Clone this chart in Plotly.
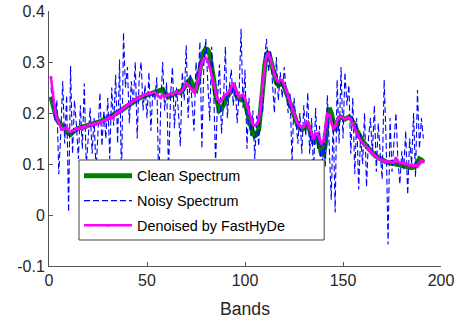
import plotly.graph_objects as go

bands = list(range(1, 192))

clean = [
    0.232, 0.215, 0.198, 0.188, 0.182, 0.178, 0.175, 0.172, 0.166, 0.160,
    0.158, 0.162, 0.166, 0.168, 0.170, 0.171, 0.172, 0.173, 0.175, 0.176,
    0.177, 0.178, 0.179, 0.180, 0.182, 0.183, 0.185, 0.186, 0.188, 0.190,
    0.192, 0.194, 0.196, 0.198, 0.200, 0.203, 0.206, 0.208, 0.211, 0.214,
    0.217, 0.219, 0.222, 0.225, 0.227, 0.229, 0.231, 0.233, 0.235, 0.236,
    0.237, 0.238, 0.239, 0.240, 0.241, 0.242, 0.244, 0.246, 0.240, 0.236,
    0.232, 0.234, 0.236, 0.238, 0.240, 0.242, 0.240, 0.244, 0.250, 0.255,
    0.262, 0.266, 0.258, 0.248, 0.245, 0.260, 0.285, 0.305, 0.320, 0.326,
    0.324, 0.315, 0.295, 0.265, 0.235, 0.215, 0.205, 0.208, 0.218, 0.228,
    0.232, 0.238, 0.250, 0.255, 0.245, 0.232, 0.228, 0.226, 0.228, 0.220,
    0.205, 0.188, 0.172, 0.160, 0.155, 0.158, 0.168, 0.200, 0.245, 0.290,
    0.315, 0.320, 0.305, 0.285, 0.270, 0.260, 0.255, 0.258, 0.258, 0.252,
    0.240, 0.228, 0.215, 0.203, 0.192, 0.182, 0.175, 0.170, 0.168, 0.170,
    0.176, 0.178, 0.168, 0.150, 0.140, 0.148, 0.155, 0.140, 0.120, 0.118,
    0.140, 0.185, 0.210, 0.200, 0.175, 0.165, 0.178, 0.190, 0.192, 0.190,
    0.188, 0.190, 0.192, 0.190, 0.184, 0.176, 0.166, 0.158, 0.150, 0.145,
    0.140, 0.135, 0.130, 0.126, 0.122, 0.118, 0.115, 0.112, 0.110, 0.108,
    0.106, 0.104, 0.103, 0.102, 0.101, 0.100, 0.100, 0.099, 0.099, 0.098,
    0.097, 0.096, 0.095, 0.094, 0.093, 0.094, 0.096, 0.102, 0.110, 0.108,
    0.104,
]

noisy = [
    0.250, 0.215, 0.185, 0.225, 0.080, 0.160, 0.262, 0.140, 0.235, 0.006,
    0.292, 0.120, 0.225, 0.175, 0.110, 0.215, 0.130, 0.258, 0.095, 0.150,
    0.210, 0.120, 0.190, 0.085, 0.165, 0.240, 0.135, 0.205, 0.150, 0.230,
    0.110, 0.250, 0.175, 0.275, 0.140, 0.305, 0.060, 0.358, 0.250, 0.290,
    0.180, 0.262, 0.215, 0.300, 0.150, 0.268, 0.300, 0.205, 0.255, 0.190,
    0.280, 0.165, 0.245, 0.225, 0.270, 0.050, 0.215, 0.300, 0.205, 0.260,
    0.080, 0.232, 0.290, 0.170, 0.250, 0.205, 0.135, 0.280, 0.225, 0.333,
    0.190, 0.275, 0.220, 0.165, 0.300, 0.250, 0.340, 0.130, 0.295, 0.345,
    0.260, 0.185, 0.330, 0.250, 0.100, 0.230, 0.295, 0.160, 0.220, 0.330,
    0.190, 0.250, 0.285, 0.215, 0.260, 0.180, 0.240, 0.365, 0.210, 0.285,
    0.130, 0.230, 0.155, 0.205, 0.110, 0.195, 0.135, 0.230, 0.200, 0.310,
    0.345, 0.280, 0.320, 0.255, 0.200, 0.310, 0.225, 0.280, 0.230, 0.290,
    0.250, 0.200, 0.240, 0.100, 0.230, 0.180, 0.140, 0.200, 0.120, 0.215,
    0.155, 0.240, 0.120, 0.190, 0.080, 0.210, 0.130, 0.175, 0.060, 0.160,
    0.095, 0.235, 0.120, 0.030, 0.190, 0.005, 0.265, 0.140, 0.290, 0.150,
    0.280, 0.215, 0.255, 0.120, 0.230, 0.080, 0.190, 0.050, 0.160, 0.100,
    0.200, 0.055, 0.150, 0.190, 0.120, 0.215, 0.085, 0.180, 0.120, 0.070,
    0.265, 0.145, -0.058, 0.190, 0.085, 0.140, 0.200, 0.110, 0.060, 0.125,
    0.090, 0.165, 0.040, 0.150, 0.100, 0.200, 0.075, 0.245, 0.130, 0.190,
    0.150,
]

denoised = [
    0.270, 0.240, 0.205, 0.190, 0.182, 0.172, 0.168, 0.170, 0.172, 0.165,
    0.163, 0.165, 0.166, 0.170, 0.168, 0.172, 0.170, 0.174, 0.172, 0.176,
    0.178, 0.176, 0.180, 0.178, 0.182, 0.180, 0.184, 0.186, 0.185, 0.190,
    0.192, 0.190, 0.195, 0.198, 0.200, 0.203, 0.206, 0.210, 0.212, 0.215,
    0.218, 0.220, 0.224, 0.226, 0.228, 0.230, 0.232, 0.235, 0.236, 0.237,
    0.238, 0.239, 0.240, 0.240, 0.238, 0.232, 0.230, 0.236, 0.232, 0.234,
    0.236, 0.238, 0.236, 0.240, 0.242, 0.238, 0.240, 0.244, 0.252, 0.258,
    0.255, 0.250, 0.245, 0.240, 0.248, 0.265, 0.282, 0.298, 0.306, 0.308,
    0.302, 0.290, 0.275, 0.258, 0.240, 0.228, 0.222, 0.225, 0.232, 0.236,
    0.238, 0.242, 0.252, 0.258, 0.250, 0.238, 0.232, 0.234, 0.236, 0.228,
    0.215, 0.200, 0.188, 0.178, 0.176, 0.178, 0.185, 0.212, 0.252, 0.290,
    0.312, 0.316, 0.305, 0.290, 0.276, 0.266, 0.262, 0.265, 0.264, 0.256,
    0.244, 0.232, 0.220, 0.208, 0.198, 0.188, 0.180, 0.175, 0.172, 0.173,
    0.180, 0.182, 0.172, 0.158, 0.150, 0.158, 0.160, 0.150, 0.140, 0.145,
    0.175, 0.198, 0.196, 0.182, 0.170, 0.174, 0.186, 0.192, 0.193, 0.190,
    0.188, 0.190, 0.191, 0.188, 0.180, 0.170, 0.160, 0.152, 0.146, 0.142,
    0.138, 0.134, 0.128, 0.124, 0.120, 0.117, 0.114, 0.111, 0.109, 0.108,
    0.106, 0.104, 0.105, 0.104, 0.103, 0.104, 0.112, 0.105, 0.102, 0.103,
    0.100, 0.101, 0.099, 0.097, 0.099, 0.096, 0.098, 0.095, 0.100, 0.106,
    0.104,
]

x_tickvals = [0, 50, 100, 150, 200]
y_tickvals = [-0.1, 0, 0.1, 0.2, 0.3, 0.4]
y_ticktext = ["-0.1", "0", "0.1", "0.2", "0.3", "0.4"]

FONT = "Liberation Sans, Arial, Helvetica, sans-serif"
TXT = "#262626"

fig = go.Figure()
fig.add_trace(go.Scatter(
    x=bands, y=clean, mode="lines", name="Clean Spectrum",
    line=dict(color="#008000", width=5), legendgroup="a"))
fig.add_trace(go.Scatter(
    x=bands, y=noisy, mode="lines", name="Noisy Spectrum",
    line=dict(color="#0000ff", width=1.1, dash="6px,3px"), legendgroup="b"))
fig.add_trace(go.Scatter(
    x=bands, y=denoised, mode="lines+markers", name="Denoised by FastHyDe",
    line=dict(color="#ff00ff", width=2.5),
    marker=dict(color="#ff00ff", size=3), legendgroup="c"))

# legend box (white panel with dark edge) drawn over the data, legend text on top
fig.add_shape(
    type="rect", xref="paper", yref="paper",
    x0=0.0765, x1=0.702, y0=0.102, y1=0.4157,
    fillcolor="white", line=dict(color="#444444", width=1), layer="above")

fig.update_layout(
    width=461, height=320,
    margin=dict(l=49, r=20, t=11, b=54),
    paper_bgcolor="white", plot_bgcolor="white",
    font=dict(family=FONT, color=TXT, size=16),
    showlegend=True,
    legend=dict(
        x=0.0765, y=0.4157, xanchor="left", yanchor="top",
        bgcolor="rgba(0,0,0,0)", borderwidth=0,
        font=dict(size=14.4, color="#000000"),
        tracegroupgap=3, itemwidth=48,
    ),
    xaxis=dict(
        range=[0, 200], tickvals=x_tickvals, showgrid=False, zeroline=False,
        showline=True, linecolor="#555555", linewidth=1, automargin=False,
        ticks="inside", ticklen=4, tickcolor="#555555",
        title=dict(text="Bands", font=dict(size=17.6), standoff=14),
    ),
    yaxis=dict(
        range=[-0.1, 0.4], tickvals=y_tickvals, ticktext=y_ticktext,
        showgrid=False, zeroline=False, automargin=False,
        showline=True, linecolor="#555555", linewidth=1,
        ticks="inside", ticklen=4, tickcolor="#555555",
    ),
)

fig.write_html("out.html", config={"displayModeBar": False},
               post_script="document.body.style.margin='0';")
